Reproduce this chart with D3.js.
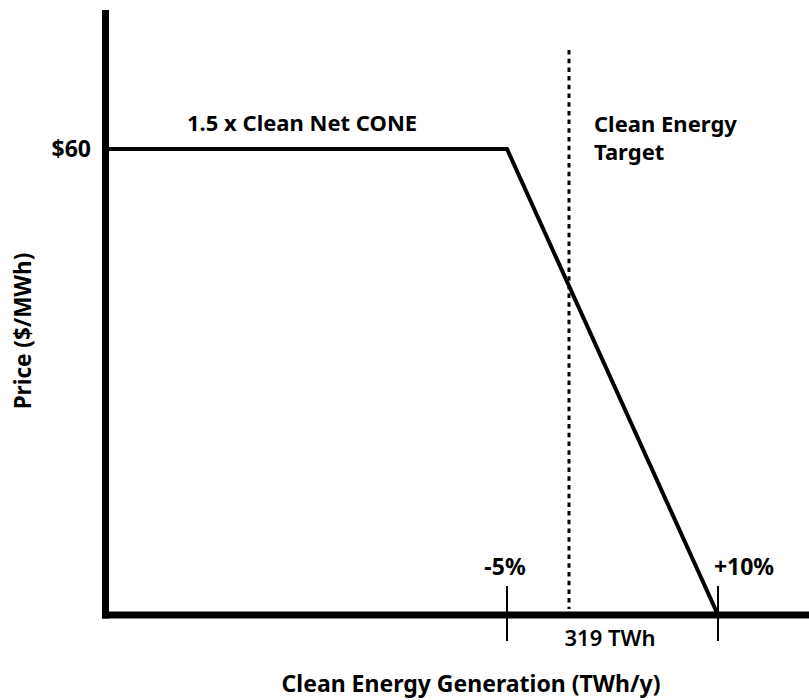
<!DOCTYPE html>
<html><head><meta charset="utf-8">
<script src="https://cdn.jsdelivr.net/npm/d3@7"></script>
<style>
html,body{margin:0;padding:0;background:#fff;}
text{font-family:"Noto Sans","Open Sans",sans-serif;font-weight:bold;fill:#000;}
</style></head>
<body>
<svg id="chart" width="809" height="700"></svg>
<script>
// ---- data ----
const targetTWh = 319;
const lowerPct = -5;   // -5% of target
const upperPct = 10;   // +10% of target
const priceCap = 60;   // $/MWh
const curveX = [null, targetTWh * (1 + lowerPct / 100), targetTWh * (1 + upperPct / 100)]; // null = start at y axis
const curveY = [priceCap, priceCap, 0];
const tickPcts = [lowerPct, upperPct];
const tickLabels = ["-5%", "+10%"];
const yTickValues = [60];
const yTickLabels = ["$60"];
const capLabel = "1.5 x Clean Net CONE";
const targetLabel = ["Clean Energy", "Target"];
const targetValueLabel = "319 TWh";
const xTitle = "Clean Energy Generation (TWh/y)";
const yTitle = "Price ($/MWh)";

// ---- layout ----
const svg = d3.select("#chart");
const axisX = 105.5, axisY = 615;
const x = d3.scaleLinear()
  .domain([targetTWh * (1 + lowerPct / 100), targetTWh, targetTWh * (1 + upperPct / 100)])
  .range([507, 569, 718]);
const y = d3.scaleLinear().domain([0, priceCap]).range([axisY, 149]);

// curve
const pts = curveX.map((v, i) => [v === null ? axisX : x(v), y(curveY[i])]);
svg.append("path")
  .attr("d", d3.line()(pts))
  .attr("fill", "none").attr("stroke", "#000").attr("stroke-width", 4)
  .attr("stroke-linejoin", "miter");

// target dotted line
svg.append("line")
  .attr("x1", x(targetTWh)).attr("x2", x(targetTWh))
  .attr("y1", 50).attr("y2", 609)
  .attr("stroke", "#000").attr("stroke-width", 3)
  .attr("stroke-dasharray", "4.5,4.2");

// axes
svg.append("line").attr("x1", axisX).attr("x2", axisX).attr("y1", 10).attr("y2", axisY + 3.5)
  .attr("stroke", "#000").attr("stroke-width", 7);
svg.append("line").attr("x1", axisX - 3.5).attr("x2", 809).attr("y1", axisY).attr("y2", axisY)
  .attr("stroke", "#000").attr("stroke-width", 7);

// ticks at -5% and +10%
tickPcts.forEach((p, i) => {
  const xv = x(targetTWh * (1 + p / 100));
  svg.append("line").attr("x1", xv).attr("x2", xv).attr("y1", 586).attr("y2", 641)
    .attr("stroke", "#000").attr("stroke-width", 2);
  svg.append("text").attr("x", i === 0 ? xv - 2 : xv + 26).attr("y", 575)
    .attr("text-anchor", "middle").attr("font-size", 23).text(tickLabels[i]);
});

// y tick label
yTickValues.forEach((v, i) => {
  svg.append("text").attr("x", 91).attr("y", y(v) + 8)
    .attr("text-anchor", "end").attr("font-size", 23).text(yTickLabels[i]);
});

// annotations
svg.append("text").attr("x", 187).attr("y", 131).attr("font-size", 22).text(capLabel);
targetLabel.forEach((d, i) => {
  svg.append("text").attr("x", 594).attr("y", 132 + i * 28).attr("font-size", 22).text(d);
});
svg.append("text").attr("x", 610).attr("y", 646).attr("text-anchor", "middle")
  .attr("font-size", 22).style("font-weight", 600).text(targetValueLabel);

// axis titles
svg.append("text").attr("x", 471).attr("y", 692).attr("text-anchor", "middle")
  .attr("font-size", 23).text(xTitle);
svg.append("text").attr("transform", "translate(31,331) rotate(-90)")
  .attr("text-anchor", "middle").attr("font-size", 22.5).text(yTitle);
</script>
</body></html>
